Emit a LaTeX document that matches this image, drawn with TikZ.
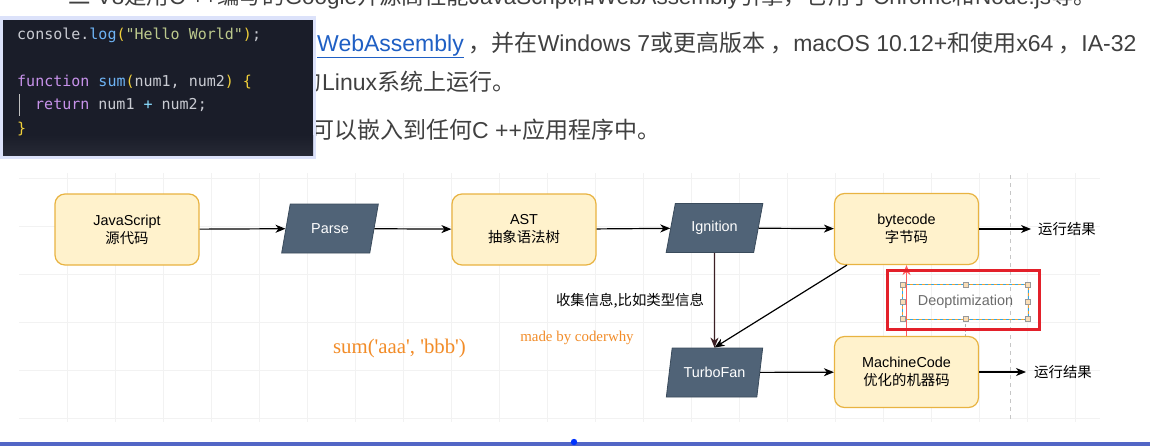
\documentclass[tikz,border=0pt]{standalone}
\usepackage{fontspec}
\usetikzlibrary{shapes.geometric,arrows.meta,calc}
\newfontfamily\cjk{Noto Sans CJK SC}
\newfontfamily\arialf{Liberation Sans}
\newfontfamily\timesf{Liberation Serif}[Ligatures=TeXOff]
\newfontfamily\monof{DejaVu Sans Mono}
\newcommand{\lt}[1]{{\arialf #1}}
\newcommand{\cm}{\hspace{5pt}，}
\definecolor{yfill}{HTML}{FFF2CC}
\definecolor{ystroke}{HTML}{E8B341}
\definecolor{pfill}{HTML}{506377}
\definecolor{pstroke}{HTML}{3A4B5C}
\definecolor{txt}{HTML}{404040}
\definecolor{link}{HTML}{1F5FC4}
\definecolor{codebg}{HTML}{1A1D29}
\definecolor{codelow}{HTML}{262935}
\definecolor{glow}{HTML}{DCE2FA}
\definecolor{cgray}{HTML}{C9CBD2}
\definecolor{cblue}{HTML}{6EB4F5}
\definecolor{cyel}{HTML}{F0CF3A}
\definecolor{cgreen}{HTML}{BCC98C}
\definecolor{cpurp}{HTML}{C792EA}
\definecolor{ccyan}{HTML}{89DDFF}
\definecolor{orng}{HTML}{F28C28}
\definecolor{redbox}{HTML}{E3202A}
\definecolor{redarr}{HTML}{FF5C5C}
\definecolor{gridc}{HTML}{F2F2F2}
\definecolor{bluebar}{HTML}{5266C6}
\definecolor{maroon}{HTML}{3B1F24}
\definecolor{selblue}{HTML}{2FA8E6}
\definecolor{selorange}{HTML}{F0A030}
\tikzset{
 ybox/.style={rounded corners=10pt, fill=yfill, draw=ystroke, line width=1.2pt, minimum width=144pt, minimum height=71pt, align=center, inner sep=0pt, font=\fontsize{14.4}{18}\selectfont\arialf, text=black},
 pgram/.style={trapezium, trapezium left angle=68, trapezium right angle=112, trapezium stretches=true, minimum width=97pt, minimum height=49pt, fill=pfill, draw=pstroke, line width=0.8pt, inner sep=0pt, text=white, font=\fontsize{14.4}{18}\selectfont\arialf},
 arr/.style={-{Stealth[length=10pt,width=8pt,inset=3pt]}, line width=1.2pt},
 lbl/.style={inner sep=0pt, font=\fontsize{14.4}{18}\selectfont\cjk, text=black},
 para/.style={inner sep=0pt, font=\fontsize{23}{27}\selectfont\cjk, text=txt},
 codet/.style={inner sep=0pt, anchor=base west, font=\fontsize{15}{18}\selectfont\monof, text=cgray},
 handle/.style={draw=gray!80, fill=selorange!35, line width=0.5pt, minimum size=5pt, inner sep=0pt},
 deoptbox/.style={minimum width=125pt, minimum height=34pt, inner sep=0pt, text=gray!85!black, font=\fontsize{14.4}{18}\selectfont\arialf},
 orangetext/.style={inner sep=0pt, text=orng, font=\timesf},
}
\begin{document}
\begin{tikzpicture}[x=1pt,y=-1pt]
\useasboundingbox (0,0) rectangle (1150,447);
\fill[white] (0,0) rectangle (1150,447);
% grid
\foreach \x in {67,115,...,1075} \draw[gridc, line width=0.6pt] (\x,173) -- (\x,422);
\foreach \y in {178,226,...,418} \draw[gridc, line width=0.6pt] (19,\y) -- (1100,\y);
\draw[gray!45, dash pattern=on 4pt off 4pt, line width=0.8pt] (1010,175) -- (1010,422);
% paragraph text
\node[para, anchor=base west, font=\fontsize{22.4}{27}\selectfont\cjk] (t0) at (68,5) {二\lt{ V8}是用\lt{C ++}编写的\lt{Google}开源高性能\lt{JavaScript}和\lt{WebAssembly}引擎，它用于\lt{Chrome}和\lt{Node.js}等。};
\node[para, anchor=base east] (t1a) at (316,51.5) {和};
\node[para, anchor=base west] (t1b) at (317,51.5) {\textcolor{link}{\underline{\lt{WebAssembly}}}\cm 并在\lt{Windows 7}或更高版本\cm\lt{macOS 10.12+}和使用\lt{x64}\cm\lt{IA-32}};
\node[para, anchor=base east] (t2a) at (322,90) {的};
\node[para, anchor=base west] (t2b) at (322,90) {\lt{Linux}系统上运行。};
\node[para, anchor=base east] (t3a) at (311,138.5) {也};
\node[para, anchor=base west] (t3b) at (311,138.5) {可以嵌入到任何\lt{C ++}应用程序中。};
% code box
\fill[glow] (0,16) rectangle (316,159);
\fill[codebg] (3,20) rectangle (313,155);
\shade[top color=codebg, bottom color=codelow] (3,135) rectangle (313,155);
\node[codet] (c1) at (17,39) {console.\textcolor{cblue}{log}\textcolor{cyel}{(}\textcolor{cgreen}{"Hello World"}\textcolor{cyel}{)};};
\node[codet] (c2) at (17,86) {\textcolor{cpurp}{function} \textcolor{cblue}{sum}\textcolor{cyel}{(}num1, num2\textcolor{cyel}{)} \textcolor{cyel}{\{}};
\node[codet] (c3) at (35,109.5) {\textcolor{cpurp}{return} num1 \textcolor{ccyan}{+} num2;};
\node[codet] (c4) at (17,133) {\textcolor{cyel}{\}}};
\draw[gray!50, line width=0.5pt] (19,94) -- (19,116);
% diagram nodes
\node[ybox] (js) at (127,229.5) {JavaScript\\\cjk 源代码};
\node[pgram] (parse) at (330,228.5) {Parse};
\node[ybox] (ast) at (524,229.5) {AST\\\cjk 抽象语法树};
\node[pgram] (ign) at (714.5,228) {Ignition};
\node[ybox] (bc) at (906.5,229) {bytecode\\\cjk 字节码};
\node[pgram] (tf) at (714.5,372.5) {TurboFan};
\node[ybox] (mc) at (906.5,372) {MachineCode\\\cjk 优化的机器码};
\node[lbl, anchor=west] (r1) at (1038,229) {运行结果};
\node[lbl, anchor=west] (r2) at (1034,372) {运行结果};
\node[lbl] (info) at (630,301) {收集信息,比如类型信息};
\node[orangetext, font=\fontsize{20.8}{24}\selectfont\timesf] (sum) at (399.5,348) {sum('aaa', 'bbb')};
\node[orangetext, font=\fontsize{14.9}{18}\selectfont\timesf] (made) at (577,338) {made by coderwhy};
% connectors
\draw[arr] (js) -- (parse);
\draw[arr] (parse) -- (ast);
\draw[arr] (ast) -- (ign);
\draw[arr] (ign) -- (bc);
\draw[arr, shorten >=7pt] (bc) -- (r1);
\draw[arr, maroon] (ign) -- (tf);
\draw[arr] ([xshift=13pt]bc.south west) -- (tf.north);
\draw[arr] (tf) -- (mc);
\draw[arr, shorten >=8pt] (mc.east) -- (r2);
% deoptimization
\node[deoptbox] (deopt) at (965.5,302) {Deoptimization};
\draw[gray!60, densely dashed, line width=0.8pt] (deopt.south) -- (deopt.south |- mc.north);
\draw[arr, redarr] (mc) -- (bc);
\draw[selblue, line width=0.8pt, dash pattern=on 3pt off 3pt] (deopt.north west) rectangle (deopt.south east);
\draw[selorange, line width=0.8pt, dash pattern=on 3pt off 3pt, dash phase=3pt] (deopt.north west) rectangle (deopt.south east);
\foreach \a in {north west,north,north east,west,east,south west,south,south east}
  \node[handle] at (deopt.\a) {};
\draw[redbox, line width=3pt] (887,270) rectangle (1039,329);
% bottom bar
\fill[bluebar] (0,442) rectangle (1150,446);
\fill[blue!80!cyan] (574,442) circle (3.2pt);
\end{tikzpicture}
\end{document}
